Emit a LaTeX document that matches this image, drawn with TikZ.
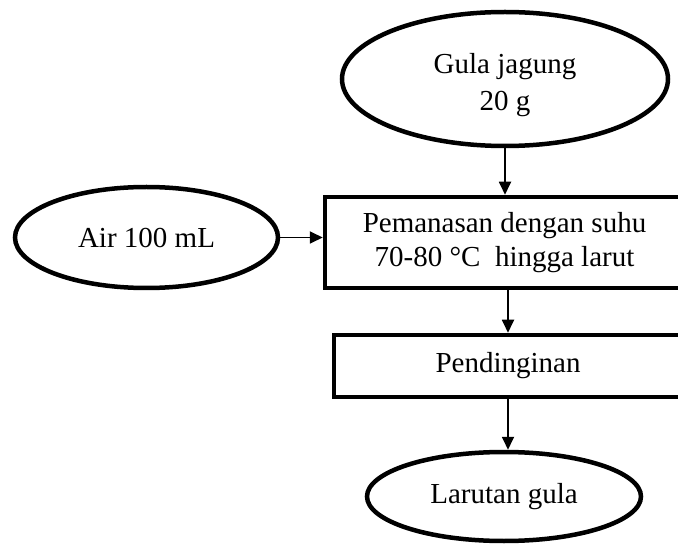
\documentclass[tikz,border=0pt]{standalone}
\usepackage{fontspec}
\setmainfont{Liberation Serif}
\usetikzlibrary{shapes.geometric,arrows.meta}
\tikzset{
  oval/.style={ellipse, draw, line width=4.5pt, inner sep=0pt, align=center,
    font=\fontsize{29}{37}\selectfont},
  procbox/.style={rectangle, draw, line width=4.5pt, inner sep=0pt, align=center,
    font=\fontsize{29}{34}\selectfont},
  flow/.style={line width=1.8pt, -{Triangle[length=13pt,width=12pt]}}
}
\begin{document}
\begin{tikzpicture}[x=1pt,y=-1pt]
\useasboundingbox (0,0) rectangle (678,556);
\clip (0,0) rectangle (678,556);
\node[oval, minimum width=326pt, minimum height=134pt] (g) at (505,79) {\rule{0pt}{32pt}Gula jagung\\20 g};
\node[oval, minimum width=263pt, minimum height=101pt] (a) at (146.5,237.5) {Air 100 mL};
\node[procbox, minimum width=359pt, minimum height=91pt] (p) at (504.5,242.5) {Pemanasan dengan suhu\\70-80 °C\ \ hingga larut};
\node[procbox, minimum width=348pt, minimum height=62pt] (d) at (508,366) {Pendinginan};
\node[oval, minimum width=274pt, minimum height=89pt] (l) at (504,496.5) {Larutan gula};
\draw[flow] (g.south) -- (g.south |- p.north);
\draw[flow] (a.east) -- (a.east -| p.west);
\draw[flow] (d.north |- p.south) -- (d.north);
\draw[flow] (d.south) -- (d.south |- l.north);
\end{tikzpicture}
\end{document}
